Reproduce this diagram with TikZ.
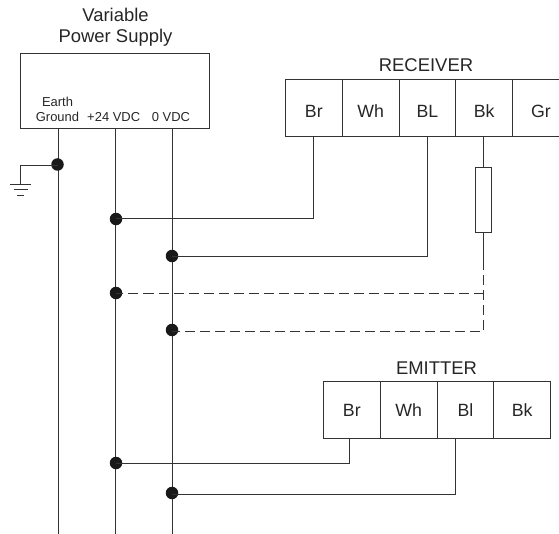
\documentclass[tikz,border=0pt]{standalone}
\usepackage{fontspec}
\setmainfont{Liberation Sans}
\tikzset{
  x=1bp,y=-1bp,
  wire/.style={line width=0.8bp,draw=black!80},
  dashwire/.style={wire,dash pattern=on 10bp off 5bp},
  junction/.style={circle,fill=black!90,draw=none,minimum size=12.5bp,inner sep=0pt},
  cell/.style={draw=black!80,line width=0.8bp,minimum width=56.8bp,minimum height=56.5bp,inner sep=0pt,font=\fontsize{17.8}{18}\selectfont,anchor=north west,text=black!85,text depth=0bp},
  rcell/.style={cell,text height=19bp},
  ecell/.style={cell,text height=13.5bp},
  title/.style={font=\fontsize{18.5}{21}\selectfont,align=center,text=black!85,inner sep=0pt},
  small/.style={font=\fontsize{13}{16}\selectfont,align=center,text=black!85,inner sep=0pt},
}
\begin{document}
\begin{tikzpicture}
\useasboundingbox (0,0) rectangle (559,534);
% power supply
\node[draw=black!80,line width=0.8bp,minimum width=189bp,minimum height=75.5bp,inner sep=0pt,anchor=north west] (ps) at (20.4,52.8) {};
\node[title] (pst) at (115.5,27.5) {Variable\\Power Supply};
\node[small,anchor=base] (eg) at (57.5,122) {Earth\\Ground};
\node[small,anchor=base] (v24) at (113.7,122) {+24 VDC};
\node[small,anchor=base] (v0) at (171,122) {0 VDC};
% bottoms
\coordinate (b1) at (58,534);
\coordinate (b2) at (115,534);
\coordinate (b3) at (172,534);
\coordinate (t1) at (58,128);
\coordinate (t2) at (115,128);
\coordinate (t3) at (172,128);
\draw[wire] (t1) -- (b1);
\draw[wire] (t2) -- (b2);
\draw[wire] (t3) -- (b3);
% receiver
\node[rcell] (r1) at (285,79.5) {Br};
\node[rcell] (r2) at (341.8,79.5) {Wh};
\node[rcell] (r3) at (398.6,79.5) {BL};
\node[rcell] (r4) at (455.4,79.5) {Bk};
\node[rcell] (r5) at (512.2,79.5) {Gr};
\node[title] (rt) at (426,65) {RECEIVER};
% emitter
\node[ecell] (e1) at (323,381) {Br};
\node[ecell] (e2) at (379.8,381) {Wh};
\node[ecell] (e3) at (436.6,381) {Bl};
\node[ecell] (e4) at (493.4,381) {Bk};
\node[title] (et) at (436.5,368.5) {EMITTER};
% junctions
\node[junction] (j0) at (57.5,164.5) {};
\node[junction] (j1) at (116,219) {};
\node[junction] (j2) at (172,256) {};
\node[junction] (j3) at (116,293) {};
\node[junction] (j4) at (172,330) {};
\node[junction] (j5) at (116,463) {};
\node[junction] (j6) at (172,493) {};
% ground
\coordinate (g0) at (20.5,165.5);
\coordinate (g1) at (20.5,184.5);
\draw[wire] (j0 |- g0) -- (g0) -- (g1);
\draw[wire] (10,184.5) -- (31,184.5);
\draw[wire] (13.5,189.8) -- (27.5,189.8);
\draw[wire] (17,195) -- (24,195);
% receiver wires
\coordinate (c1) at (313.5,218.5);
\coordinate (c2) at (427,256);
\coordinate (rs) at (483.5,167);
\coordinate (d0) at (483.5,260);
\coordinate (d1) at (483.5,293);
\coordinate (d2) at (483.5,331);
\draw[wire] (j1 |- c1) -- (c1) -- (r1.south -| c1);
\draw[wire] (j2 |- c2) -- (c2) -- (r3.south -| c2);
\node[draw=black!80,line width=0.8bp,minimum width=15.5bp,minimum height=64.5bp,inner sep=0pt,anchor=north] (res) at (rs) {};
\draw[wire] (r4.south -| rs) -- (res.north);
\draw[wire] (res.south) -- (d0);
\draw[dashwire] (d0) -- (d2) -- (j4 |- d2);
\draw[dashwire] (d1) -- (j3 |- d1);
% emitter wires
\coordinate (c3) at (349.5,463.5);
\coordinate (c4) at (455.5,494);
\draw[wire] (j5 |- c3) -- (c3) -- (e1.south -| c3);
\draw[wire] (j6 |- c4) -- (c4) -- (e3.south -| c4);
\end{tikzpicture}
\end{document}
